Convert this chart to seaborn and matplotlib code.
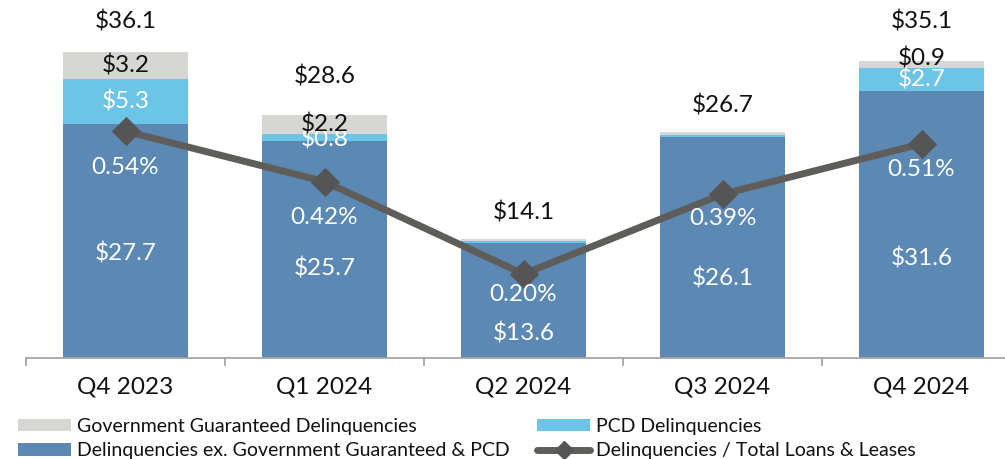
import matplotlib
matplotlib.use("Agg")
import matplotlib.pyplot as plt
from matplotlib.patches import Patch
from matplotlib.lines import Line2D
import seaborn as sns
import pandas as pd
import numpy as np

# ---- data ----
quarters = ["Q4 2023", "Q1 2024", "Q2 2024", "Q3 2024", "Q4 2024"]
base_delinq = [27.7, 25.7, 13.6, 26.1, 31.6]      # Delinquencies ex. Gov Guaranteed & PCD
pcd_delinq = [5.3, 0.8, 0.2, 0.3, 2.7]            # PCD Delinquencies
gov_delinq = [3.2, 2.2, 0.3, 0.3, 0.9]            # Government Guaranteed Delinquencies
totals = [36.1, 28.6, 14.1, 26.7, 35.1]
total_labels = ["$36.1", "$28.6", "$14.1", "$26.7", "$35.1"]
base_labels = ["$27.7", "$25.7", "$13.6", "$26.1", "$31.6"]
pcd_labels = ["$5.3", "$0.8", "", "", "$2.7"]
gov_labels = ["$3.2", "$2.2", "", "", "$0.9"]
rates = [0.54, 0.42, 0.20, 0.39, 0.51]            # Delinquencies / Total Loans & Leases (%)
rate_labels = ["0.54%", "0.42%", "0.20%", "0.39%", "0.51%"]

# ---- label layout (primary-axis units, style only) ----
total_label_y = [39.8, 33.3, 17.2, 29.9, 39.8]
base_label_y = [12.4, 10.65, 2.95, 9.35, 11.8]
rate_label_y = [22.6, 16.6, 7.55, 16.45, 22.25]
pcd_label_shift = [0.0, -0.3, 0.0, 0.0, 0.0]
gov_label_shift = [0.0, 0.0, 0.0, 0.0, 0.75]

C_BASE = "#5B89B4"
C_PCD = "#6CC4E6"
C_GOV = "#D6D6D2"
C_LINE = "#5F5D59"
C_MARK = "#555555"

sns.set_theme(style="white")
plt.rcParams["font.family"] = ["Lato", "DejaVu Sans"]

fig = plt.figure(figsize=(10.05, 4.59), dpi=100)
W, H = 1005, 459
ax = fig.add_axes([26 / W, 101 / H, 995 / W, 358 / H])

df = pd.DataFrame({
    "quarter": quarters,
    "base": base_delinq,
    "pcd": pcd_delinq,
    "gov": gov_delinq,
})
df["cum_pcd"] = df["base"] + df["pcd"]
df["cum_gov"] = df["cum_pcd"] + df["gov"]

bw = 0.63
sns.barplot(data=df, x="quarter", y="cum_gov", color=C_GOV, width=bw,
            saturation=1, ax=ax, linewidth=0)
sns.barplot(data=df, x="quarter", y="cum_pcd", color=C_PCD, width=bw,
            saturation=1, ax=ax, linewidth=0)
sns.barplot(data=df, x="quarter", y="base", color=C_BASE, width=bw,
            saturation=1, ax=ax, linewidth=0)

ymax = 358 / 8.45
ax.set_ylim(0, ymax)
ax.set_xlim(-0.5, 4.5)

# secondary axis for rate line (drawn above the bars)
ax2 = ax.twinx()
sns.pointplot(x=quarters, y=rates, ax=ax2, color=C_LINE, markers="D",
              linestyles="-", linewidth=5, markersize=11,
              markerfacecolor=C_MARK, markeredgecolor=C_MARK, errorbar=None)
ax2.set_ylim(0, 358 / 420)
ax2.set_xlim(-0.5, 4.5)
ax2.axis("off")

# axis styling
for s in ["left", "right", "top"]:
    ax.spines[s].set_visible(False)
ax.spines["bottom"].set_color("#A6A6A6")
ax.spines["bottom"].set_linewidth(1.3)
ax.set_yticks([])
ax.set_ylabel("")
ax.set_xlabel("")
ax.set_xticks(range(len(quarters)))
ax.set_xticklabels(quarters, fontsize=17.5, color="#111111")
ax.set_xticks(np.arange(-0.5, len(quarters) + 0.5, 1), minor=True)
ax.tick_params(axis="x", which="major", length=0, pad=13)
ax.tick_params(axis="x", which="minor", length=6, width=1.3, color="#A6A6A6",
               bottom=True, direction="out")

# labels drawn on the top axis (in primary data coordinates) so they sit above the line
fs = 17.5
tr = ax.transData
for i in range(len(quarters)):
    ax2.text(i, total_label_y[i], total_labels[i], ha="center", va="center",
             fontsize=fs, color="#111111", zorder=10, transform=tr)
    ax2.text(i, base_label_y[i], base_labels[i], ha="center", va="center",
             fontsize=fs, color="white", zorder=10, transform=tr)
    ax2.text(i, rate_label_y[i], rate_labels[i], ha="center", va="center",
             fontsize=fs, color="white", zorder=10, transform=tr)
    if pcd_labels[i]:
        yc = base_delinq[i] + pcd_delinq[i] / 2 + pcd_label_shift[i]
        ax2.text(i, yc, pcd_labels[i], ha="center", va="center",
                 fontsize=fs, color="white", zorder=10, transform=tr)
    if gov_labels[i]:
        yc = base_delinq[i] + pcd_delinq[i] + gov_delinq[i] / 2 + gov_label_shift[i]
        ax2.text(i, yc, gov_labels[i], ha="center", va="center",
                 fontsize=fs, color="#111111", zorder=10, transform=tr)

# legends
lfs = 14
h_gov = Patch(facecolor=C_GOV, edgecolor="none")
h_base = Patch(facecolor=C_BASE, edgecolor="none")
h_pcd = Patch(facecolor=C_PCD, edgecolor="none")
h_line = Line2D([0], [0], color=C_LINE, lw=5, marker="D", markersize=9,
                markerfacecolor=C_MARK, markeredgecolor=C_MARK)
leg_kw = dict(frameon=False, fontsize=lfs, handlelength=2.75, handleheight=0.6,
              handletextpad=0.3, labelspacing=0.38, borderaxespad=0,
              borderpad=0, loc="upper left")
leg1 = fig.legend([h_gov, h_base],
                  ["Government Guaranteed Delinquencies",
                   "Delinquencies ex. Government Guaranteed & PCD"],
                  bbox_to_anchor=(18 / W, 1 - 418 / H), **leg_kw)
leg2 = fig.legend([h_pcd, h_line],
                  ["PCD Delinquencies", "Delinquencies / Total Loans & Leases"],
                  bbox_to_anchor=(537 / W, 1 - 418 / H), **leg_kw)
for lg in (leg1, leg2):
    for t in lg.get_texts():
        t.set_color("#111111")

fig.savefig("out.png", dpi=100)
